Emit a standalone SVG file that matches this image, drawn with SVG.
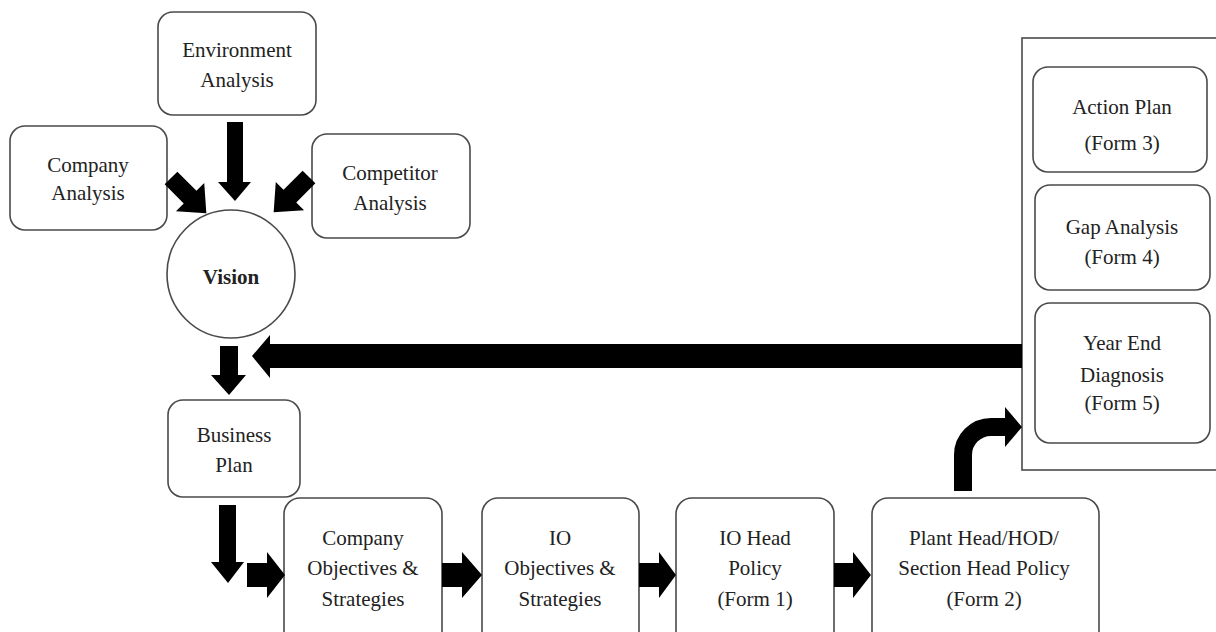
<svg xmlns="http://www.w3.org/2000/svg" width="1216" height="632" viewBox="0 0 1216 632">
  <defs>
    <style>
      .box { fill: #ffffff; stroke: #4a4a4a; stroke-width: 1.6; }
      .frame { fill: none; stroke: #4a4a4a; stroke-width: 1.6; }
      .lbl { font-family: "Liberation Serif", "Times New Roman", serif; font-size: 21px; fill: #222222; text-anchor: middle; }
      .bold { font-weight: bold; }
      .blk { fill: #000000; }
      .bend { fill: none; stroke: #000000; stroke-width: 18; }
    </style>
    <!-- right-pointing block arrow, tip at (50,0) -->
    <polygon id="diag" points="0,-9 27,-9 27,-20 50,0 27,20 27,9 0,9"/>
  </defs>

  <rect width="1216" height="632" fill="#ffffff"/>

  <!-- container for the forms -->
  <rect class="frame" x="1022" y="38" width="220" height="432"/>

  <g id="environment">
    <rect class="box" x="158" y="12" width="158" height="103" rx="15"/>
    <text class="lbl" x="237" y="57">Environment</text>
    <text class="lbl" x="237" y="87">Analysis</text>
  </g>

  <g id="company-analysis">
    <rect class="box" x="10" y="126" width="157" height="104" rx="15"/>
    <text class="lbl" x="88" y="172">Company</text>
    <text class="lbl" x="88" y="200">Analysis</text>
  </g>

  <g id="competitor-analysis">
    <rect class="box" x="312" y="134" width="158" height="104" rx="15"/>
    <text class="lbl" x="390" y="180">Competitor</text>
    <text class="lbl" x="390" y="210">Analysis</text>
  </g>

  <g id="vision">
    <circle class="box" cx="231" cy="274" r="64"/>
    <text class="lbl bold" x="231" y="284">Vision</text>
  </g>

  <g id="business-plan">
    <rect class="box" x="168" y="400" width="132" height="97" rx="15"/>
    <text class="lbl" x="234" y="442">Business</text>
    <text class="lbl" x="234" y="472">Plan</text>
  </g>

  <g id="company-objectives">
    <rect class="box" x="284" y="498" width="158" height="150" rx="16"/>
    <text class="lbl" x="363" y="545">Company</text>
    <text class="lbl" x="363" y="575">Objectives &amp;</text>
    <text class="lbl" x="363" y="606">Strategies</text>
  </g>

  <g id="io-objectives">
    <rect class="box" x="482" y="498" width="157" height="150" rx="16"/>
    <text class="lbl" x="560" y="545">IO</text>
    <text class="lbl" x="560" y="575">Objectives &amp;</text>
    <text class="lbl" x="560" y="606">Strategies</text>
  </g>

  <g id="io-head-policy">
    <rect class="box" x="676" y="498" width="158" height="150" rx="16"/>
    <text class="lbl" x="755" y="545">IO Head</text>
    <text class="lbl" x="755" y="575">Policy</text>
    <text class="lbl" x="755" y="606">(Form 1)</text>
  </g>

  <g id="plant-head-policy">
    <rect class="box" x="872" y="498" width="227" height="150" rx="16"/>
    <text class="lbl" x="984" y="545">Plant Head/HOD/</text>
    <text class="lbl" x="984" y="575">Section Head Policy</text>
    <text class="lbl" x="984" y="606">(Form 2)</text>
  </g>

  <g id="action-plan">
    <rect class="box" x="1033" y="67" width="174" height="105" rx="15"/>
    <text class="lbl" x="1122" y="114">Action Plan</text>
    <text class="lbl" x="1122" y="150">(Form 3)</text>
  </g>

  <g id="gap-analysis">
    <rect class="box" x="1035" y="185" width="175" height="105" rx="15"/>
    <text class="lbl" x="1122" y="234">Gap Analysis</text>
    <text class="lbl" x="1122" y="264">(Form 4)</text>
  </g>

  <g id="year-end-diagnosis">
    <rect class="box" x="1035" y="303" width="175" height="140" rx="15"/>
    <text class="lbl" x="1122" y="350">Year End</text>
    <text class="lbl" x="1122" y="382">Diagnosis</text>
    <text class="lbl" x="1122" y="410">(Form 5)</text>
  </g>

  <g id="connectors">
    <!-- inputs to the vision -->
    <polygon class="blk" points="227,122 243,122 243,182 251,182 235,201 218,182 227,182"/>
    <use href="#diag" class="blk" transform="translate(171,178) rotate(45)"/>
    <use href="#diag" class="blk" transform="translate(309,177) rotate(135)"/>
    <!-- vision down to business plan -->
    <polygon class="blk" points="220,346 238,346 238,375 246,375 229,395 211,375 220,375"/>
    <!-- business plan down -->
    <polygon class="blk" points="219,505 236,505 236,562 244,562 228,583 211,562 219,562"/>
    <!-- left-to-right chain -->
    <polygon class="blk" points="247,563 267,563 267,552 285,575 267,598 267,587 247,587"/>
    <polygon class="blk" points="442,563 462,563 462,552 482,575 462,598 462,587 442,587"/>
    <polygon class="blk" points="639,563 659,563 659,552 676,575 659,598 659,587 639,587"/>
    <polygon class="blk" points="834,563 853,563 853,552 871,575 853,598 853,587 834,587"/>
    <!-- bend up into the forms -->
    <path class="bend" d="M963,491 V455 A28,28 0 0 1 991,427 H1007"/>
    <polygon class="blk" points="1005,407 1022,427 1005,447"/>
    <!-- feedback to the vision -->
    <polygon class="blk" points="1022,344 270,344 270,335 252,356 270,378 270,368 1022,368"/>
  </g>
</svg>
